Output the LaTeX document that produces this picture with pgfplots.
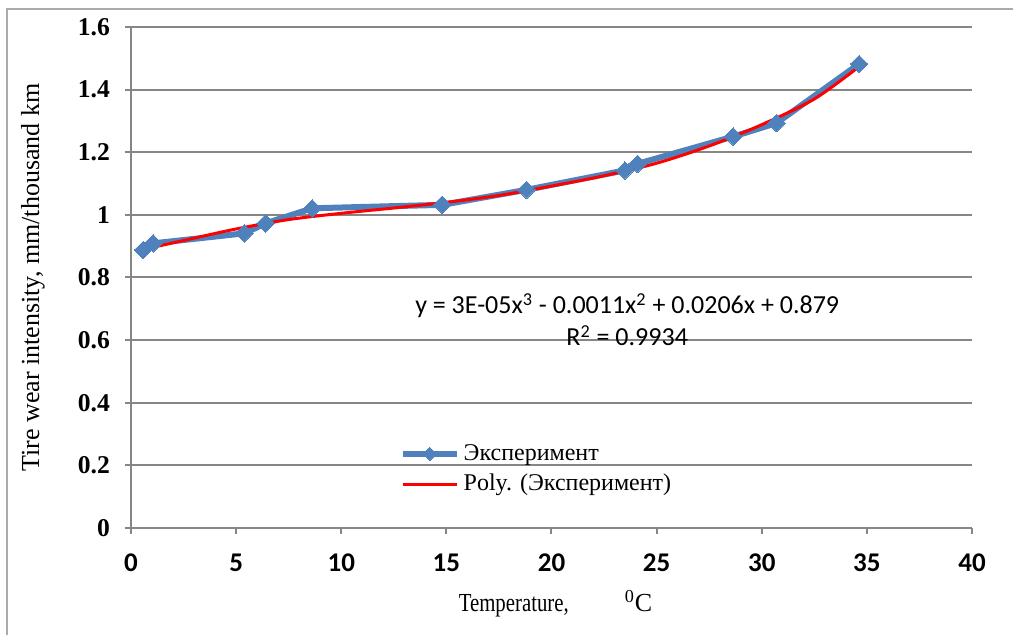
\documentclass[border=0pt]{standalone}
\usepackage{fontspec}
\setmainfont{Liberation Serif}
\newfontfamily\calibri{Carlito}
\newfontfamily\condserif[FakeStretch=0.8]{Liberation Serif}
\usepackage{pgfplots}
\pgfplotsset{compat=1.18}
\definecolor{xlblue}{HTML}{4F81BD}
\definecolor{xlgrid}{HTML}{868686}
\pgfplotsset{
  bluelegend/.style={legend image code/.code={\draw[mark repeat=2, mark phase=2, mark size=2.4pt, ##1]
    plot coordinates {(0pt,0pt) (13.5pt,0pt) (27pt,0pt)};}},
  redlegend/.style={legend image code/.code={\draw[##1] (0pt,0pt) -- (27pt,0pt);}},
}

\begin{document}
\begin{tikzpicture}
% picture area: 1 px of the reference = 0.5pt, axis box corner at (0,0)
\useasboundingbox (-65.5pt,-53.5pt) rectangle (441pt,264pt);
\draw[xlgrid!70, line width=1pt] (-62pt,-53.5pt) -- (-62pt,259.5pt) -- (441pt,259.5pt);
\begin{axis}[
  scale only axis,
  width=420.5pt, height=250.5pt,
  xmin=0, xmax=40, ymin=0, ymax=1.6,
  xtick={0,5,...,40},
  ytick={0,0.2,0.4,0.6,0.8,1,1.2,1.4,1.6},
  axis x line*=bottom, axis y line*=left,
  axis line style={draw=xlgrid, line width=1pt},
  tick style={draw=xlgrid, line width=1pt},
  tick align=outside,
  major tick length=3pt,
  ymajorgrids, grid style={draw=xlgrid, line width=1pt},
  /pgf/number format/assume math mode=true,
  xticklabel style={font=\calibri\bfseries\fontsize{13.5}{14}\selectfont, yshift=-6.5pt},
  yticklabel style={font=\bfseries\fontsize{12.8}{14}\selectfont, xshift=-4pt},
  xlabel={{\condserif Temperature,}\hspace{28pt}\textsuperscript{0}C},
  xlabel style={font=\fontsize{13}{14}\selectfont, at={(axis description cs:0.5,0)}, anchor=center, yshift=-38pt, xshift=2pt},
  ylabel={Tire wear intensity, mm/thousand km},
  ylabel style={font=\fontsize{13}{14}\selectfont, at={(axis description cs:-0.1165,0.5)}, anchor=center},
  legend style={at={(axis cs:12.76,0.188)}, anchor=west, draw=none, fill=none,
    inner sep=0pt, font=\fontsize{12}{14}\selectfont, row sep=1.5pt},
  legend cell align=left,
  clip=false,
]
\addplot[xlblue, line width=3pt, mark=square*, mark size=3.1pt,
  mark options={rotate=45, line width=0pt, fill=xlblue}, bluelegend]
  coordinates {
  (0.58,0.888) (1.06,0.909) (5.39,0.941) (6.40,0.973) (8.62,1.021)
  (14.80,1.032) (18.81,1.080) (23.49,1.142) (24.09,1.163)
  (28.64,1.250) (30.70,1.293) (34.63,1.482)
};
\addlegendentry{Эксперимент}
\addplot[red, line width=1.5pt, smooth, no markers, redlegend]
  coordinates {
  (0.6,0.890) (2.5,0.918) (5,0.955) (7.5,0.985) (10,1.005) (12.5,1.022)
  (15,1.040) (17.5,1.062) (20,1.092) (22.5,1.125) (25,1.165) (27.5,1.220)
  (30,1.288) (32.5,1.370) (34.6,1.472)
};
\addlegendentry{Poly. (Эксперимент)}
\node[align=center, font=\calibri\fontsize{13}{16}\selectfont] at (axis cs:23.6,0.665)
  {y = 3E-05x\textsuperscript{3} - 0.0011x\textsuperscript{2} + 0.0206x + 0.879\\R\textsuperscript{2} = 0.9934};
\end{axis}
\end{tikzpicture}
\end{document}
